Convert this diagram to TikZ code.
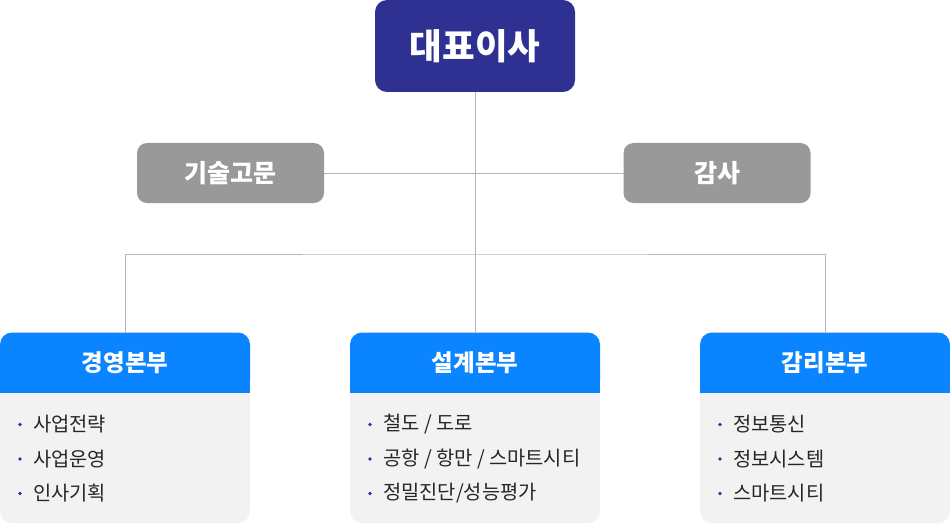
\documentclass[tikz,border=0pt]{standalone}
\usepackage{fontspec}
\setmainfont{Noto Sans CJK KR}
\usepackage{xcolor}
\definecolor{ceoblue}{HTML}{2E3192}
\definecolor{hdblue}{HTML}{0A84FF}
\definecolor{advgray}{HTML}{999999}
\definecolor{bodygray}{HTML}{F2F2F2}
\definecolor{linegray}{HTML}{B5B5B5}
\definecolor{dotblue}{HTML}{1F3A9E}

\begin{document}
\begin{tikzpicture}[x=1pt,y=-1pt,
  ceo/.style={fill=ceoblue,text=white,rounded corners=12pt,outer sep=0pt,
    minimum width=200pt,minimum height=92pt,font=\bfseries\fontsize{35.5}{40}\selectfont},
  adv/.style={fill=advgray,text=white,rounded corners=10pt,outer sep=0pt,
    minimum width=187pt,minimum height=60pt,font=\bfseries\fontsize{25}{29}\selectfont},
  head/.style={fill=hdblue,text=white,rounded corners=12pt,outer sep=0pt,
    minimum width=250pt,minimum height=60pt,font=\bfseries\fontsize{23.5}{27}\selectfont},
  item/.style={anchor=west,text=black!85,inner sep=0pt,font=\fontsize{19.8}{23}\selectfont},
  conn/.style={draw=linegray,line width=1pt}]
  \useasboundingbox (0,0) rectangle (950,524);

  \node[ceo] (ceo) at (475,46) {대표이사};
  \node[adv] (tech) at (230.5,173) {기술고문};
  \node[adv] (audit) at (717,173) {감사};

  % divisions: grey body, blue head with square bottom
  \foreach \x/\name/\title in {125/mgmt/경영본부,475/design/설계본부,825/supv/감리본부}{
    \fill[bodygray,rounded corners=12pt] (\x-125,362) rectangle (\x+125,523);
    \node[head] (\name) at (\x,362.5) {\title};
    \fill[hdblue] ([yshift=14pt]\name.south west) rectangle (\name.south east);
  }

  \foreach \t [count=\i] in {사업전략,사업운영,인사기획}{
    \node[item] (mgmt-\i) at (33,390+34.5*\i) {\t};
    \fill[dotblue] (20,390+34.5*\i) circle (1.8pt);
  }
  \foreach \t [count=\i] in {철도 / 도로,공항 / 항만 / 스마트시티,정밀진단/성능평가}{
    \node[item] (design-\i) at (383,390+34.5*\i) {\t};
    \fill[dotblue] (370,390+34.5*\i) circle (1.8pt);
  }
  \foreach \t [count=\i] in {정보통신,정보시스템,스마트시티}{
    \node[item] (supv-\i) at (733,390+34.5*\i) {\t};
    \fill[dotblue] (720,390+34.5*\i) circle (1.8pt);
  }

  \coordinate (branch) at (475,254);
  \draw[conn] (ceo.south) -- (design.north);
  \draw[conn] (tech.east) -- (audit.west);
  \draw[conn] (mgmt.north) |- (branch) -| (supv.north);
\end{tikzpicture}
\end{document}
